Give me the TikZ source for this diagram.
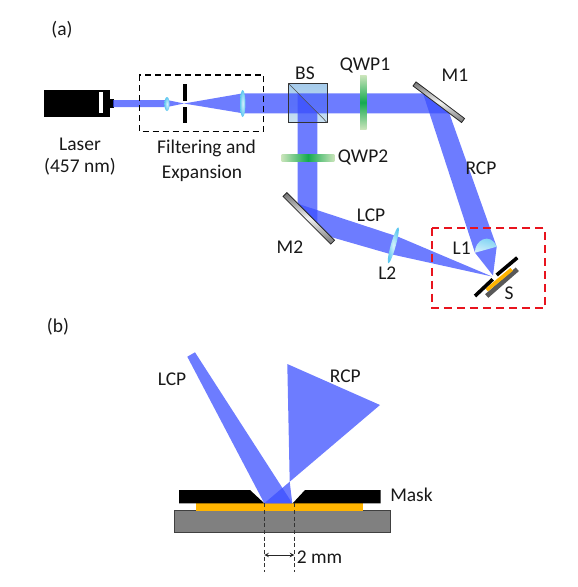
\documentclass[tikz,border=0pt]{standalone}
\usepackage{fontspec}
\setmainfont{Carlito}
\definecolor{beamblue}{RGB}{60,80,255}
\definecolor{lenscyan}{RGB}{95,200,240}
\definecolor{platedark}{RGB}{128,128,128}
\definecolor{filmgold}{RGB}{255,180,0}
\definecolor{boxred}{RGB}{232,20,30}
\definecolor{splitterlight}{RGB}{200,224,243}
\definecolor{splitterdark}{RGB}{165,203,235}
\definecolor{platepale}{RGB}{200,228,185}
\definecolor{platemid}{RGB}{20,170,80}
\tikzset{
  beam/.style={fill=beamblue, fill opacity=0.75},
  lens/.style={inner color=white!75!lenscyan, outer color=lenscyan},
  mirror/.style={draw=black!85, line width=0.6pt, top color=black!55, bottom color=black!55, middle color=black!5},
  label/.style={font=\fontsize{14.6}{17}\selectfont, text=black!90, inner sep=0pt},
  cut/.style={densely dashed, line width=0.55pt, black!80}
}
\begin{document}
\begin{tikzpicture}[x=0.75pt, y=-0.75pt]
  \useasboundingbox (0,0) rectangle (578,587);

  % Laser
  \fill[black] (43.5,90) rectangle (110,117);
  \fill[black] (110,99) rectangle (113.5,108);
  \fill[white] (98.5,92) rectangle (102.5,113);
  \node[label] (laser) at (80,144) {Laser};
  \node[label] (wavelength) at (80,167) {(457 nm)};

  % Beam splitter, goes under the beams
  \shade[top color=splitterdark, bottom color=splitterlight] (288.3,83.3) rectangle (327.3,122.7);

  % Beams, part (a)
  \fill[beam] (113,100) -- (167,100) -- (184,103.5) -- (167,107) -- (113,107) -- cycle;
  \fill[beam] (184,103.5) -- (243,93.3) -- (243,113.3) -- cycle;
  \fill[beam] (243,93.3) -- (423,93.3) -- (449.3,113.3) -- (243,113.3) -- cycle;
  \fill[beam] (297.7,93.3) -- (317.3,113) -- (317.3,223.2) -- (297.7,203.7) -- cycle;
  \fill[beam] (423,93.3) -- (449.3,113.3) -- (496.7,246.7) -- (493,275.5) -- (475,252.7) -- cycle;
  \fill[beam] (297.7,203.7) -- (398,236.7) -- (492,276.5) -- (390,254) -- (331,237) -- cycle;

  % Filtering and expansion
  \draw[dash pattern=on 4.5pt off 3pt, line width=1pt] (139.3,75) rectangle (263.3,131.7);
  \fill[black] (182.5,84) rectangle (186.5,100.5);
  \fill[black] (182.5,106.5) rectangle (186.5,122.7);
  \shade[lens] (167,104) ellipse [x radius=2.6, y radius=7];
  \shade[lens] (242.7,103.5) ellipse [x radius=2.7, y radius=13.5];
  \node[label, align=left] (filtering) at (206.5,160.5) {Filtering and\\[1.5pt]\hspace*{3.5pt}Expansion};

  % BS
  \draw[black!80, line width=0.8pt] (288.3,83.3) rectangle (327.3,122.7);
  \draw[black!70, line width=0.4pt] (288.3,83.3) -- (327.3,122.7);
  \node[label] (bs) at (305,73) {BS};

  % QWP1, QWP2
  \shade[top color=platepale, bottom color=platepale, middle color=platemid] (360,75.7) rectangle (366.7,129);
  \shade[left color=platepale, right color=platepale, middle color=platemid] (281.7,154) rectangle (334.3,161);
  \node[label] (qwpone) at (365,65) {QWP1};
  \node[label, anchor=west] (qwptwo) at (337.7,157) {QWP2};

  % M1, M2
  \shadedraw[mirror, rotate around={-37:(438.8,102.2)}] (408.4,99.7) rectangle (469.2,104.7);
  \shadedraw[mirror, rotate around={-45:(308.8,218.4)}] (275.1,215.7) rectangle (342.5,221.1);
  \node[label] (mone) at (455,75) {M1};
  \node[label] (mtwo) at (290,247) {M2};

  % L1, L2
  \shade[lens, rotate around={-15.5:(393.3,245.3)}] (393.3,245.3) ellipse [x radius=2.5, y radius=18.7];
  \shade[top color=lenscyan, bottom color=white!70!lenscyan, shading angle=-15]
    (475,252.7) .. controls (474,241) and (490,231) .. (496.7,246.7) -- cycle;
  \node[label] (lone) at (461.7,248) {L1};
  \node[label] (ltwo) at (387.3,273) {L2};
  \node[label] (rcp) at (481,168) {RCP};
  \node[label] (lcp) at (371,215) {LCP};

  % Sample
  \draw[line width=3.6pt, black!65] (486.7,296) -- (517.3,269.3);
  \draw[line width=2.8pt, filmgold] (486.7,290) -- (511.7,269.3);
  \draw[line width=2.7pt, black] (475,296) -- (492.7,279.3);
  \draw[line width=2.7pt, black] (496.7,275) -- (517.3,257.7);
  \node[label] (s) at (509,293) {S};
  \draw[dash pattern=on 6pt off 3.8pt, line width=1.6pt, boxred] (432.3,228.3) rectangle (545,308.3);

  \node[label] (parta) at (62,30) {(a)};
  \node[label] (partb) at (58,327) {(b)};

  % Close-up, part (b)
  \draw[line width=0.6pt, black!75, fill=platedark] (174,510.7) rectangle (390,532.7);
  \fill[filmgold] (196,503.3) rectangle (362.7,510.7);
  \fill[black] (179,490) -- (250,490) -- (264.3,503.3) -- (179,503.3) -- cycle;
  \fill[black] (380.7,490) -- (305,490) -- (292.7,503.3) -- (380.7,503.3) -- cycle;
  \fill[beam] (187.3,356.7) -- (195,352.3) -- (292.3,503.3) -- (264.3,503.3) -- cycle;
  \fill[beam] (287.3,364) -- (380,405) -- (289.7,481.7) -- cycle
    (289.7,481.7) -- (292.3,503.3) -- (264.3,503.3) -- cycle;
  \node[label] (lcpb) at (172,379) {LCP};
  \node[label] (rcpb) at (345.3,376) {RCP};
  \node[label, anchor=west] (mask) at (390,495) {Mask};

  % 2 mm gap
  \coordinate (gapLtop) at (264.3,503.3);
  \coordinate (gapLend) at (264.3,571.7);
  \coordinate (gapRtop) at (294.3,503.3);
  \coordinate (gapRend) at (294.3,571.7);
  \coordinate (gapL) at (264.3,555);
  \coordinate (gapR) at (294.3,555);
  \draw[cut] (gapLtop) -- (gapLend);
  \draw[cut] (gapRtop) -- (gapRend);
  \draw[<->, >=stealth, line width=0.55pt, black!85] (gapL) -- (gapR);
  \node[label, anchor=west] (gap) at (296.5,557) {2 mm};
\end{tikzpicture}
\end{document}
